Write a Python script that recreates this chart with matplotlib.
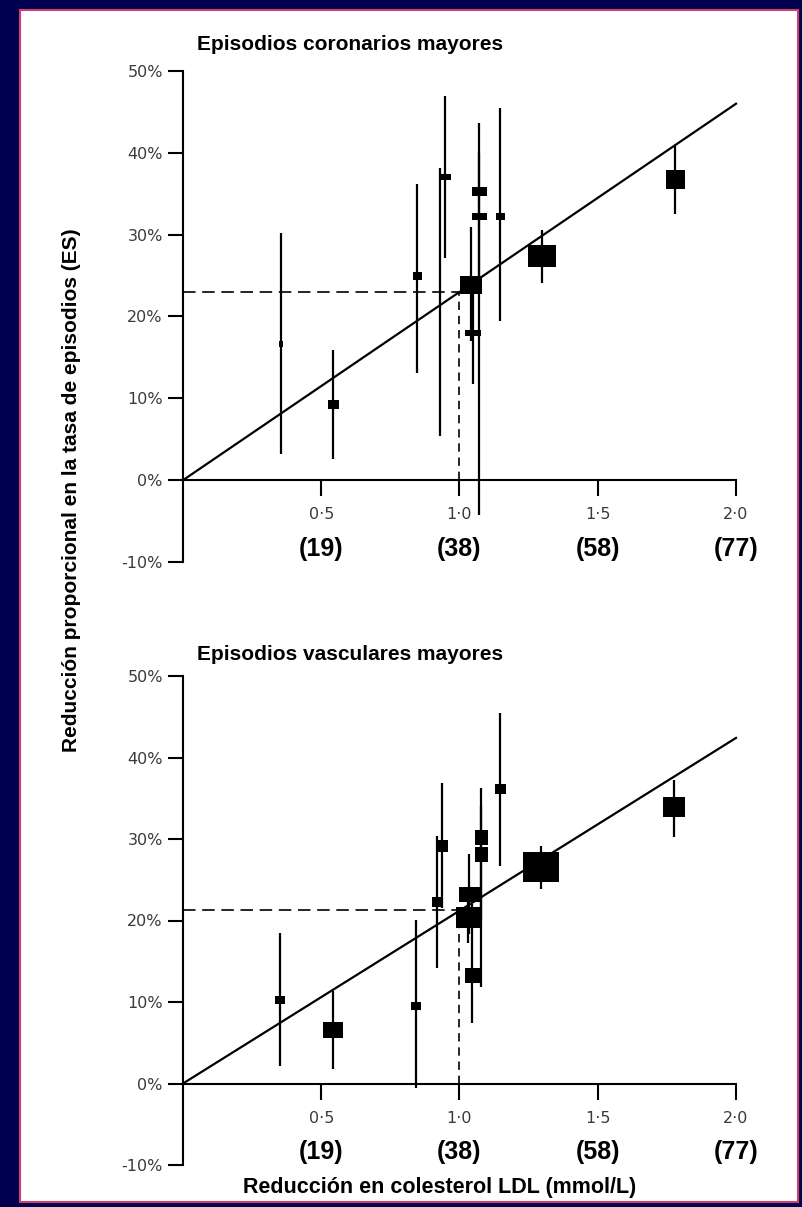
import matplotlib.pyplot as plt
from matplotlib.patches import Rectangle

W, H = 802, 1207
NAVY = "#000050"
EDGE = "#d0406e"
SANS = ["Liberation Sans", "DejaVu Sans"]

# axis ticks
x_ticks = [0.5, 1.0, 1.5, 2.0]
x_ticklabels = ["0·5", "1·0", "1·5", "2·0"]
mgdl_labels = ["(19)", "(38)", "(58)", "(77)"]
y_ticks = [-10, 0, 10, 20, 30, 40, 50]
y_ticklabels = ["-10%", "0%", "10%", "20%", "30%", "40%", "50%"]

# Episodios coronarios mayores: LDL reduction (mmol/L), % reduction, CI, box size (px)
coronary_x = [0.355, 0.544, 0.847, 0.928, 0.949, 1.04, 1.048, 1.072, 1.072, 1.145, 1.30, 1.78]
coronary_y = [16.7, 9.3, 24.9, 21.5, 37.0, 23.9, 18.0, 35.3, 32.3, 32.3, 27.4, 36.8]
coronary_lo = [3.2, 2.6, 13.1, 5.4, 27.2, 17.0, 11.7, 25.0, -4.2, 19.5, 24.1, 32.5]
coronary_hi = [30.2, 15.9, 36.2, 38.2, 46.9, 30.9, 23.0, 43.7, 40.0, 45.5, 30.6, 40.8]
coronary_box_w = [4, 11, 9, 2, 11, 22, 16, 15, 15, 9, 28, 19]
coronary_box_h = [6, 9, 8, 2, 6, 18, 6, 9, 7, 7, 22, 19]
coronary_slope = 23.0
coronary_ref = 23.0

# Episodios vasculares mayores
vascular_x = [0.351, 0.543, 0.841, 0.92, 0.938, 1.03, 1.035, 1.045, 1.077, 1.077, 1.145, 1.294, 1.775]
vascular_y = [10.3, 6.6, 9.5, 22.3, 29.1, 20.4, 23.2, 13.3, 28.2, 30.2, 36.1, 26.6, 33.9]
vascular_lo = [2.1, 1.8, -0.6, 14.2, 21.5, 17.3, 18.3, 7.4, 11.8, 20.0, 26.7, 23.9, 30.2]
vascular_hi = [18.5, 11.4, 20.1, 30.4, 36.9, 23.5, 28.2, 22.0, 36.3, 34.0, 45.4, 29.2, 37.3]
vascular_box_w = [10, 20, 10, 10, 12, 24, 21, 15, 13, 13, 11, 36, 22]
vascular_box_h = [9, 16, 9, 10, 12, 21, 15, 15, 15, 15, 10, 30, 20]
vascular_slope = 21.2
vascular_ref = 21.3


def draw_panel(ax, xs, ys, lo, hi, bw, bh, slope, ref):
    ax.set_xlim(0, 2.0)
    ax.set_ylim(-10, 50)
    ax.set_facecolor("none")

    ax.plot([0, 2.0], [0, 2.0 * slope], color="black", lw=1.6, clip_on=False, zorder=3)
    ax.plot([0, 1.0], [ref, ref], color="black", lw=1.2, dashes=(7.5, 4), zorder=2)
    ax.plot([1.0, 1.0], [0, ref], color="black", lw=1.2, dashes=(5, 3.5), zorder=2)

    ax.vlines(xs, lo, hi, color="black", lw=1.6, clip_on=False, zorder=3)
    for x, y, w, h in zip(xs, ys, bw, bh):
        verts = [(-w / 2, -h / 2), (w / 2, -h / 2), (w / 2, h / 2), (-w / 2, h / 2), (-w / 2, -h / 2)]
        ax.plot(x, y, marker=verts, ms=max(w, h) * 0.72, color="black", mew=0,
                ls="none", clip_on=False, zorder=4)

    for s in ("top", "right"):
        ax.spines[s].set_visible(False)
    ax.spines["bottom"].set_position(("data", 0))
    ax.spines["left"].set_linewidth(1.5)
    ax.spines["bottom"].set_linewidth(1.5)

    ax.set_yticks(y_ticks)
    ax.set_yticklabels(y_ticklabels)
    ax.set_xticks(x_ticks)
    ax.set_xticklabels(x_ticklabels)
    ax.tick_params(axis="y", length=10.5, width=1.5, pad=4, labelsize=11.5, labelcolor="#3a3a3a")
    ax.tick_params(axis="x", length=11.5, width=1.5, pad=8, labelsize=11.5, labelcolor="#3a3a3a")

    for t, lab in zip(x_ticks, mgdl_labels):
        ax.text(t, -8.4, lab, ha="center", va="center", fontsize=18,
                fontweight="bold", family=SANS)


fig = plt.figure(figsize=(W / 100, H / 100), dpi=100)
fig.patch.set_facecolor(NAVY)
fig.patches.append(Rectangle((20 / W, 1 - 1202 / H), 778 / W, 1192 / H,
                             transform=fig.transFigure, facecolor="white",
                             edgecolor=EDGE, lw=1.5, zorder=-5))

left, right = 183 / W, 736 / W
ax1 = fig.add_axes([left, 1 - 562 / H, right - left, 491 / H])
ax2 = fig.add_axes([left, 1 - 1165 / H, right - left, 489 / H])

draw_panel(ax1, coronary_x, coronary_y, coronary_lo, coronary_hi,
           coronary_box_w, coronary_box_h, coronary_slope, coronary_ref)
draw_panel(ax2, vascular_x, vascular_y, vascular_lo, vascular_hi,
           vascular_box_w, vascular_box_h, vascular_slope, vascular_ref)

fig.text(197 / W, 1 - 45 / H, "Episodios coronarios mayores", ha="left", va="center",
         fontsize=15, fontweight="bold", family=SANS)
fig.text(197 / W, 1 - 654 / H, "Episodios vasculares mayores", ha="left", va="center",
         fontsize=15, fontweight="bold", family=SANS)
fig.text(440 / W, 1 - 1188 / H, "Reducción en colesterol LDL (mmol/L)", ha="center",
         va="center", fontsize=15.5, fontweight="bold", family=SANS)
fig.text(72 / W, 1 - 490 / H, "Reducción proporcional en la tasa de episodios (ES)",
         ha="center", va="center", rotation=90, fontsize=15, fontweight="bold", family=SANS)

fig.savefig("out.png", dpi=100, facecolor=NAVY)
